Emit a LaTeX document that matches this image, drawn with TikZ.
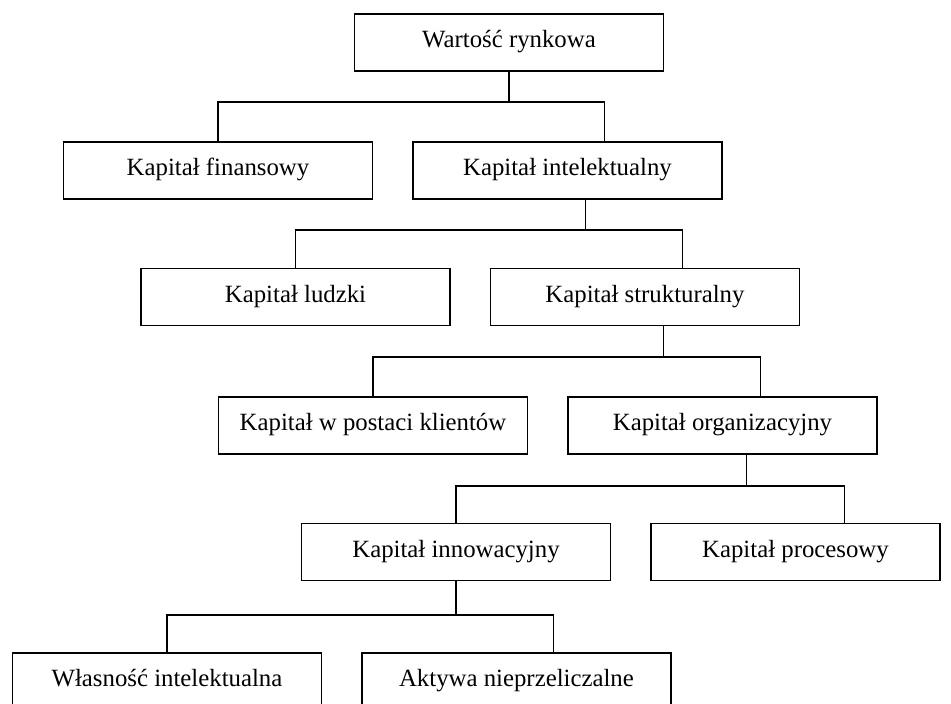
\documentclass[tikz,border=0pt]{standalone}
\usepackage{fontspec}
\setmainfont{Liberation Serif}
\usetikzlibrary{positioning}
\tikzset{
  kapbox/.style={draw,line width=1.1pt,minimum width=231.75pt,minimum height=42.75pt,inner sep=0pt,text height=12pt,text depth=4pt,align=center,font=\fontsize{18.6}{21}\selectfont},
  kapline/.style={line width=1.1pt},
}

\begin{document}
\begin{tikzpicture}[x=0.75pt,y=-0.75pt]
\useasboundingbox (0,0) rectangle (951,704);
 % boxes, level by level
\node[kapbox] (wr) at (509,42.5) {Wartość rynkowa};
\node[kapbox] (fin) at (218,170.5) {Kapitał finansowy};
\node[kapbox,right=29.25pt of fin] (ki) {Kapitał intelektualny};
\node[kapbox] (lud) at (295.5,297) {Kapitał ludzki};
\node[kapbox,right=29.25pt of lud] (ks) {Kapitał strukturalny};
\node[kapbox] (kli) at (373,425.5) {Kapitał w postaci klientów};
\node[kapbox,right=29.25pt of kli] (org) {Kapitał organizacyjny};
\node[kapbox] (inn) at (456,552) {Kapitał innowacyjny};
\node[kapbox,minimum width=216.75pt,right=29.25pt of inn] (proc) {Kapitał procesowy};
\node[kapbox] (wlas) at (167,681.5) {Własność intelektualna};
\node[kapbox,right=29.25pt of wlas] (akt) {Aktywa nieprzeliczalne};
 % bus heights
\coordinate (bus1) at (0,102);
\coordinate (bus2) at (0,230);
\coordinate (bus3) at (0,357);
\coordinate (bus4) at (0,486);
\coordinate (bus5) at (0,615);
 % where lines leave and enter boxes
\coordinate (kiout) at ([shift={(173,0)}]ki.south west);
\coordinate (ksout) at ([shift={(174,0)}]ks.south west);
\coordinate (orgout) at ([shift={(179,0)}]org.south west);
\coordinate (innout) at ([shift={(155,0)}]inn.south west);
\coordinate (kiin) at ([shift={(192,0)}]ki.north west);
\coordinate (ksin) at ([shift={(193,0)}]ks.north west);
\coordinate (orgin) at ([shift={(193,0)}]org.north west);
\coordinate (procin) at ([shift={(194,0)}]proc.north west);
\coordinate (aktin) at ([shift={(192,0)}]akt.north west);
 % connectors
\draw[kapline] (wr.south) -- (wr.south |- bus1);
\draw[kapline] (fin.north) |- (kiin |- bus1) -- (kiin);
\draw[kapline] (kiout) -- (kiout |- bus2);
\draw[kapline] (lud.north) |- (ksin |- bus2) -- (ksin);
\draw[kapline] (ksout) -- (ksout |- bus3);
\draw[kapline] (kli.north) |- (orgin |- bus3) -- (orgin);
\draw[kapline] (orgout) -- (orgout |- bus4);
\draw[kapline] (inn.north) |- (procin |- bus4) -- (procin);
\draw[kapline] (innout) -- (innout |- bus5);
\draw[kapline] (wlas.north) |- (aktin |- bus5) -- (aktin);
\end{tikzpicture}
\end{document}
